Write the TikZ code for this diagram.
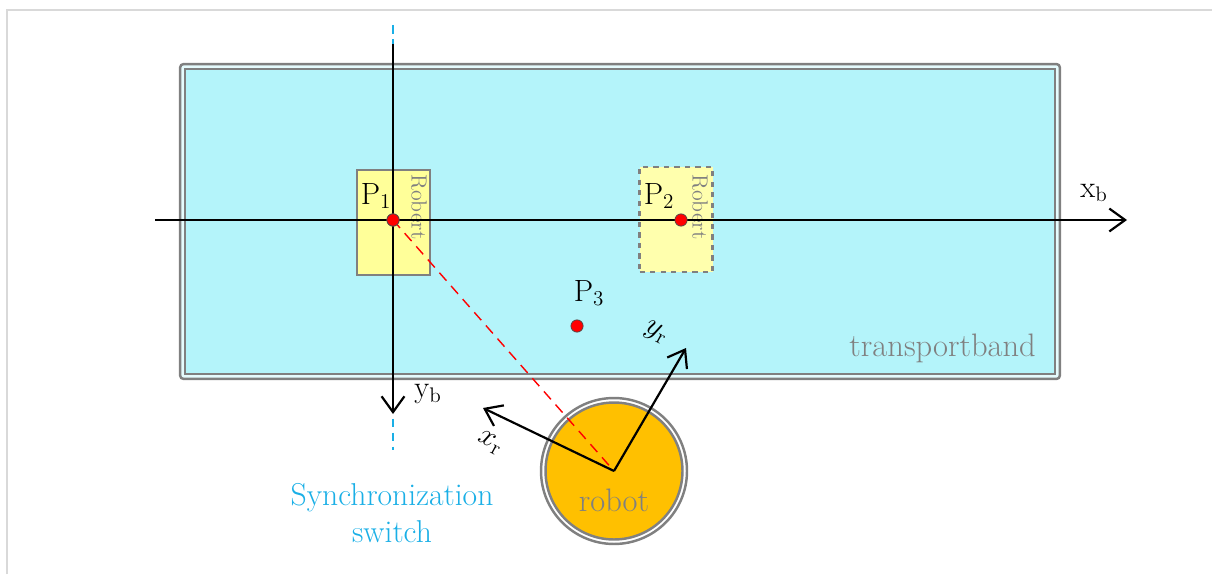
\documentclass[tikz,border=0pt]{standalone}
\usepackage{xcolor}
\usepackage{tikz}
\usetikzlibrary{arrows.meta,positioning,calc}
\definecolor{bandcyan}{HTML}{B4F4FA}
\definecolor{padyellow}{HTML}{FFFF99}
\definecolor{robotorange}{HTML}{FFC000}
\definecolor{syncblue}{HTML}{1AAFE6}

\begin{document}
\begin{tikzpicture}[x=0.02cm, y=-0.02cm,
  axis/.style={line width=1.25pt, -{Straight Barb[length=9pt, width=13pt, line width=1.25pt]}},
  spot/.style={circle, draw=black!70, fill=red, inner sep=0pt, minimum size=7pt, line width=0.4pt},
  pad/.style={rectangle, draw=gray, line width=1.2pt, fill=padyellow, minimum width=1.46cm, minimum height=2.1cm, inner sep=0pt},
  lab/.style={font=\fontsize{17.5}{20}\selectfont, inner sep=1pt},
  robertlab/.style={font=\fontsize{12.5}{14}\selectfont, text=gray, rotate=-90, inner sep=0pt}
]
\useasboundingbox (0,0) rectangle (1212,574);
\draw[black!15, line width=0.8pt] (7,574) -- (7,10) -- (1212,10);

\node[rectangle, draw=gray, line width=1.4pt, rounded corners=2pt, fill=bandcyan!35, minimum width=17.6cm, minimum height=6.3cm] (bandouter) at (620,221.5) {};
\node[rectangle, draw=gray, line width=1.4pt, fill=bandcyan, minimum width=17.4cm, minimum height=6.1cm] (band) at (620,221.5) {};
\node[font=\fontsize{18.5}{20}\selectfont, text=gray, anchor=east] (bandlab) at (1042,348) {transportband};

\draw[syncblue, line width=0.9pt, dash pattern=on 5pt off 3pt] (393,25) -- (393,450);

\node[pad] (pad1) at (393.5,222.5) {};
\node[pad, dashed, fill=padyellow!80] (pad2) at (676,219.5) {};
\node[robertlab] (robert1) at (419,207) {Robert};
\node[robertlab] (robert2) at (700,207) {Robert};

\coordinate (xbstart) at (155,220);
\coordinate (xbend) at (1127,220);
\coordinate (ybstart) at (393,44);
\coordinate (ybend) at (393,414);
\draw[axis] (xbstart) -- (xbend);
\draw[axis] (ybstart) -- (ybend);
\node[lab] (xblab) at (1094,193) {x$_\mathrm{b}$};
\node[lab] (yblab) at (428,394) {y$_\mathrm{b}$};

\node[circle, draw=gray, line width=1.4pt, fill=white, minimum size=2.92cm, inner sep=0pt] (robotring) at (614,471) {};
\node[circle, draw=gray, line width=1.4pt, fill=robotorange, minimum size=2.74cm, inner sep=0pt] (robot) at (614,471) {};
\node[font=\fontsize{18.5}{20}\selectfont, text=gray] (robotlab) at (614,500) {robot};
\coordinate (rorigin) at (614,471);
\coordinate (xrend) at (483,408);
\coordinate (yrend) at (686,348);

\node[spot] (p1) at (393,220) {};
\draw[red, line width=0.8pt, dash pattern=on 6pt off 4pt] (p1.center) -- (rorigin);
\node[spot] (p1dot) at (393,220) {};
\node[spot] (p2) at (681,220) {};
\node[spot] (p3) at (577,326) {};
\node[lab] (p1lab) at (376,196) {P$_1$};
\node[lab] (p2lab) at (659,196) {P$_2$};
\node[lab] (p3lab) at (589,293) {P$_3$};

\draw[axis] (rorigin) -- (xrend);
\draw[axis] (rorigin) -- (yrend);
\node[lab, rotate=-28] (xrlab) at (490,443) {$x_\mathrm{r}$};
\node[lab, rotate=-28] (yrlab) at (656,333) {$y_\mathrm{r}$};

\node[font=\fontsize{18}{21.5}\selectfont, text=syncblue, align=center] (synclab) at (392,513) {Synchronization\\switch};
\end{tikzpicture}
\end{document}
